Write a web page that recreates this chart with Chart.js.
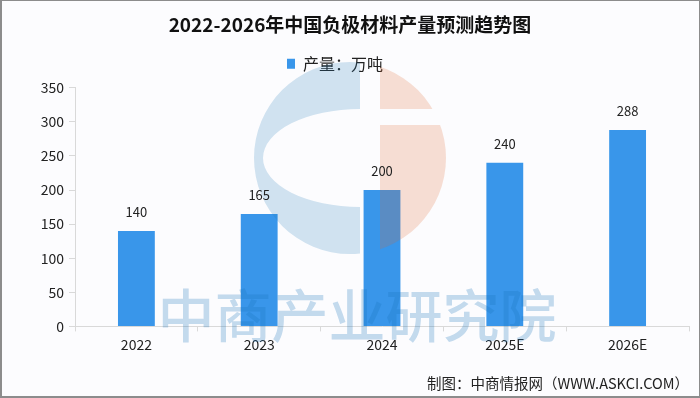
<!DOCTYPE html>
<html>
<head>
<meta charset="utf-8">
<script src="https://cdn.jsdelivr.net/npm/chart.js@4.4.1/dist/chart.umd.min.js"></script>
<style>
  html, body { margin: 0; padding: 0; background: #fcfcfe; }
  #wrap { width: 700px; height: 398px; }
</style>
</head>
<body>
<div id="wrap"><canvas id="chart" width="700" height="398"></canvas></div>
<script>
const years = ['2022', '2023', '2024', '2025E', '2026E'];
const output = [140, 165, 200, 240, 288];
const seriesName = '产量：万吨';
const yMin = 0;
const yMax = 350;
const yStep = 50;

const FONT = '"Noto Sans CJK SC", "Noto Sans", sans-serif';
Chart.defaults.font.family = FONT;
Chart.defaults.color = '#222';

// thin grey frame round the picture
const framePlugin = {
  id: 'frame',
  afterDraw(chart) {
    const { ctx, width, height } = chart;
    ctx.save();
    ctx.fillStyle = '#8c8c8c';
    ctx.fillRect(0, 0, width, 1);
    ctx.fillRect(0, 0, 2, height);
    ctx.fillRect(0, height - 2, width, 2);
    ctx.fillRect(width - 1, 0, 1, height);
    ctx.restore();
  }
};

// faint logo + text watermark, drawn over the bars
const watermarkPlugin = {
  id: 'watermark',
  afterDatasetsDraw(chart) {
    const { ctx, width } = chart;
    const cx = width / 2, cy = 158, r = 96;
    ctx.save();
    ctx.globalAlpha = 0.2;
    ctx.beginPath();
    ctx.rect(0, 0, cx + 10, 398);
    ctx.clip();
    ctx.beginPath();
    ctx.arc(cx, cy, r, 0, Math.PI * 2);
    ctx.ellipse(cx + 10, cy, 97, 49, 0, 0, Math.PI * 2);
    ctx.fillStyle = 'rgb(35,125,185)';
    ctx.fill('evenodd');
    ctx.restore();

    ctx.save();
    ctx.globalAlpha = 0.2;
    ctx.beginPath();
    ctx.rect(cx + 30, 0, 300, cy - 49);
    ctx.rect(cx + 30, cy - 33, 300, 300);
    ctx.clip();
    ctx.beginPath();
    ctx.arc(cx, cy, r, 0, Math.PI * 2);
    ctx.fillStyle = 'rgb(225,100,40)';
    ctx.fill();
    ctx.restore();

    ctx.save();
    ctx.globalAlpha = 0.25;
    ctx.fillStyle = 'rgb(23,115,187)';
    ctx.font = '500 57px ' + FONT;
    ctx.textAlign = 'center';
    ctx.textBaseline = 'middle';
    ctx.fillText('中商产业研究院', 357, 315);
    ctx.restore();
  }
};

const valueLabels = {
  id: 'valueLabels',
  afterDatasetsDraw(chart) {
    const { ctx } = chart;
    const meta = chart.getDatasetMeta(0);
    ctx.save();
    ctx.font = '13px ' + FONT;
    ctx.fillStyle = '#222';
    ctx.textAlign = 'center';
    ctx.textBaseline = 'middle';
    meta.data.forEach((bar, i) => {
      ctx.fillText(output[i], bar.x, bar.y - 19);
    });
    ctx.restore();
  }
};

// extra room under the legend, and the legend sits a bit left of centre
const legendTweak = {
  id: 'legendTweak',
  beforeInit(chart) {
    const legend = chart.legend;
    const fit = legend.fit;
    legend.fit = function () {
      fit.call(this);
      this.height += 6;
    };
    const draw = legend.draw;
    legend.draw = function () {
      const ctx = this.ctx;
      ctx.save();
      ctx.translate(-15, 0);
      draw.call(this);
      ctx.restore();
    };
  }
};

new Chart(document.getElementById('chart'), {
  type: 'bar',
  data: {
    labels: years,
    datasets: [{
      label: seriesName,
      data: output,
      backgroundColor: '#3996ea',
      borderWidth: 0,
      categoryPercentage: 1,
      barPercentage: 0.3
    }]
  },
  options: {
    responsive: false,
    animation: false,
    layout: { padding: { left: 11, right: 11, top: 0, bottom: 0 } },
    plugins: {
      title: {
        display: true,
        text: '2022-2026年中国负极材料产量预测趋势图',
        font: { size: 19, weight: 'bold' },
        color: '#111',
        padding: { top: 13, bottom: 10 }
      },
      subtitle: {
        display: true,
        position: 'bottom',
        align: 'end',
        text: '制图：中商情报网（WWW.ASKCI.COM）',
        font: { size: 14.5 },
        color: '#222',
        padding: { top: 0, bottom: 5.6 }
      },
      legend: {
        display: true,
        labels: {
          boxWidth: 8,
          boxHeight: 10,
          font: { size: 16 },
          color: '#222'
        }
      },
      tooltip: { enabled: false }
    },
    scales: {
      x: {
        grid: {
          offset: true,
          drawOnChartArea: false,
          tickLength: 5,
          color: '#d9d9d9'
        },
        border: { color: '#d9d9d9' },
        ticks: { font: { size: 14 }, color: '#222', padding: 5 },
        afterFit(scale) { scale.height = 48.6; }
      },
      y: {
        min: yMin,
        max: yMax,
        ticks: { stepSize: yStep, font: { size: 14 }, color: '#222', padding: 5 },
        grid: {
          drawOnChartArea: false,
          tickLength: 6,
          color: '#d9d9d9'
        },
        border: { color: '#d9d9d9' },
        afterFit(scale) { scale.width = 64; }
      }
    }
  },
  plugins: [legendTweak, watermarkPlugin, valueLabels, framePlugin]
});
</script>
</body>
</html>
